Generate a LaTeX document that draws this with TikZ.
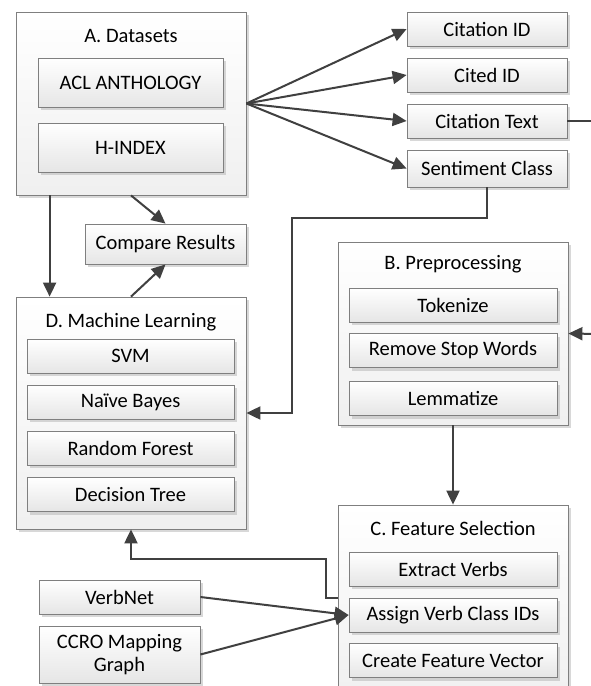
\documentclass[tikz,border=0pt]{standalone}
\usepackage{fontspec}
\setmainfont{Carlito}
\usetikzlibrary{arrows.meta,shadows}
\definecolor{boxline}{HTML}{7F7F7F}
\definecolor{ink}{HTML}{404040}
\tikzset{
  boxshadow/.style={drop shadow={shadow xshift=3pt,shadow yshift=-3pt,fill=black!30,opacity=.5}},
  group/.style={draw=boxline,line width=0.8pt,top color=white,bottom color=black!6,boxshadow,
    minimum width=230pt,inner sep=0pt},
  item/.style={draw=boxline,line width=0.8pt,top color=white,bottom color=black!10,boxshadow,
    minimum height=34pt,inner sep=0pt,align=center},
  conn/.style={draw=ink,line width=2pt,-{Triangle[length=14pt,width=13pt]}},
  wire/.style={draw=ink,line width=2pt}
}
\begin{document}
\begin{tikzpicture}[x=1pt,y=-1pt,font=\fontsize{20.5}{23}\selectfont]
\useasboundingbox (0,0) rectangle (591,686);
\fill[white] (0,0) rectangle (591,686);

\node[group,minimum height=183pt] (A) at (131,103.5) {};
\node (Atitle) at (131,36) {A. Datasets};
\node[item,minimum width=185pt,minimum height=49pt] (acl) at (130.5,82.5) {ACL ANTHOLOGY};
\node[item,minimum width=185pt,minimum height=49pt] (hindex) at (130.5,147.5) {H-INDEX};

\node[item,minimum width=161pt,minimum height=40pt] (compare) at (165.5,244) {Compare Results};

\node[group,minimum height=232pt] (D) at (131,413) {};
\node (Dtitle) at (131,322) {D. Machine Learning};
\node[item,minimum width=207pt] (svm) at (130.5,356) {SVM};
\node[item,minimum width=207pt] (nb) at (130.5,402) {Naïve Bayes};
\node[item,minimum width=207pt] (rf) at (130.5,448) {Random Forest};
\node[item,minimum width=207pt] (dt) at (130.5,494.5) {Decision Tree};

\node[item,minimum width=160pt] (citeid) at (487,29) {Citation ID};
\node[item,minimum width=160pt] (citedid) at (487,75) {Cited ID};
\node[item,minimum width=160pt] (citetext) at (487,121) {Citation Text};
\node[item,minimum width=160pt,minimum height=37pt] (sentiment) at (487,168.5) {Sentiment Class};

\node[group,minimum height=183pt] (B) at (453,333.5) {};
\node (Btitle) at (453,264) {B. Preprocessing};
\node[item,minimum width=208pt] (tok) at (453,305) {Tokenize};
\node[item,minimum width=208pt] (stop) at (453,350.5) {Remove Stop Words};
\node[item,minimum width=208pt] (lem) at (453,398.5) {Lemmatize};

\node[group,minimum height=200pt] (C) at (453,605) {};
\node (Ctitle) at (453,528) {C. Feature Selection};
\node[item,minimum width=208pt] (extract) at (453,569) {Extract Verbs};
\node[item,minimum width=208pt] (assign) at (453,615) {Assign Verb Class IDs};
\node[item,minimum width=208pt] (create) at (453,660.5) {Create Feature Vector};

\node[item,minimum width=161pt] (verbnet) at (119.5,597) {VerbNet};
\node[item,minimum width=161pt,minimum height=57pt] (ccro) at (119.5,654.5) {CCRO Mapping\\Graph};

\coordinate (bendS) at (292,218);
\coordinate (bendC) at (326,559);
\coordinate (inB) at (600,334);
\coordinate (outT) at (600,121);

\draw[conn] (A.east) -- (citeid.west);
\draw[conn] (A.east) -- (citedid.west);
\draw[conn] (A.east) -- (citetext.west);
\draw[conn] (A.east) -- (sentiment.west);
\draw[wire] (citetext.east) -- (outT);
\draw[conn] (A.south) -- (compare.north);
\draw[conn] (D.north) -- (compare.south);
\draw[conn] ([xshift=34pt]A.south west) -- ([xshift=34pt]D.north west);
\draw[conn] (sentiment.south) |- (bendS) |- (D.east);
\draw[conn] (inB) -- (B.east);
\draw[conn] (B.south) -- (C.north);
\draw[conn] (assign.north -| C.west) -| (bendC) -| (D.south);
\draw[conn] (verbnet.east) -- (assign.west);
\draw[conn] (ccro.east) -- (assign.west);
\end{tikzpicture}
\end{document}
